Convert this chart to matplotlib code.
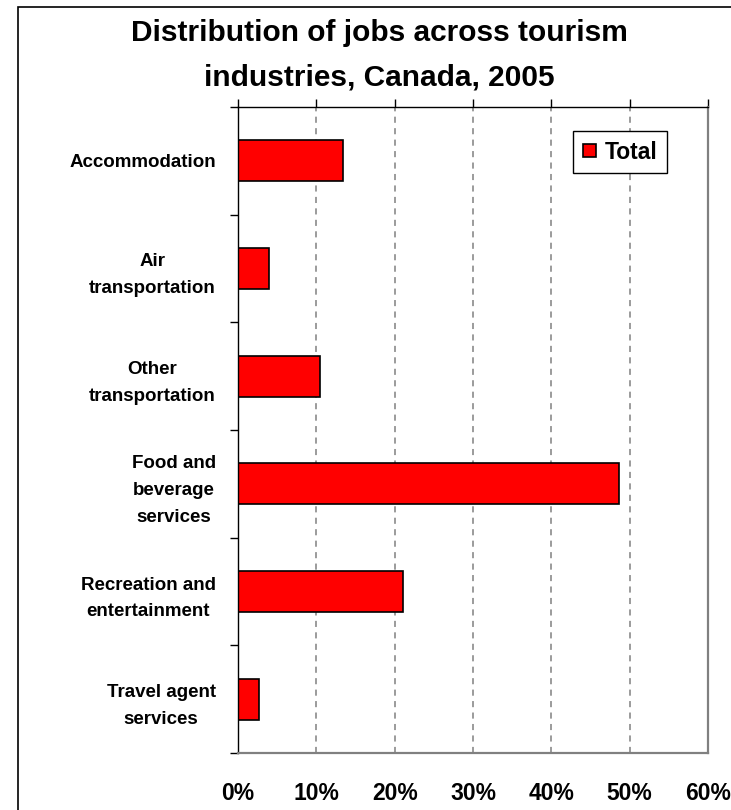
import matplotlib
matplotlib.use('Agg')
import matplotlib.pyplot as plt
import matplotlib.patches as patches
import numpy as np

industries = ['Accommodation', 'Air\ntransportation', 'Other\ntransportation',
              'Food and\nbeverage\nservices', 'Recreation and\nentertainment',
              'Travel agent\nservices']
share_total = [0.134, 0.039, 0.105, 0.486, 0.210, 0.027]
x_ticks = [0.0, 0.1, 0.2, 0.3, 0.4, 0.5, 0.6]
x_labels = ['0%', '10%', '20%', '30%', '40%', '50%', '60%']

plt.rcParams['font.family'] = ['Liberation Sans', 'DejaVu Sans']

W, H = 731, 810
fig = plt.figure(figsize=(W / 100, H / 100), dpi=100)
ax = fig.add_axes([238 / W, 57 / H, 470 / W, 646 / H])

ypos = np.arange(len(industries)) + 0.5
ax.barh(ypos, share_total, height=0.38, color='#ff0000', edgecolor='black',
        linewidth=1.2, label='Total', zorder=3)

ax.set_xlim(0, 0.6)
ax.set_ylim(len(industries), 0)

# gridlines
ax.set_xticks(x_ticks)
ax.set_xticklabels(x_labels, fontsize=16.5, fontweight='bold')
ax.grid(axis='x', color='#808080', linestyle=(0, (4, 3.5)), linewidth=1.1, zorder=1)
ax.xaxis.set_ticks_position('top')
ax.tick_params(axis='x', top=True, bottom=False, labeltop=False, labelbottom=True,
               length=6, width=1, color='black', direction='out', pad=15)

# category boundaries as major ticks, names as minor tick labels
ax.set_yticks(np.arange(len(industries) + 1))
ax.set_yticklabels([])
ax.set_yticks(ypos, minor=True)
ax.set_yticklabels(industries, minor=True, fontsize=13.5, fontweight='bold')
ax.tick_params(axis='y', which='major', length=6, width=1, color='black', direction='out')
ax.tick_params(axis='y', which='minor', length=0, pad=16)
for lbl in ax.get_yticklabels(minor=True):
    lbl.set_multialignment('center')
    lbl.set_linespacing(1.75)

ax.spines['left'].set_color('black')
ax.spines['top'].set_color('black')
ax.spines['left'].set_linewidth(1.0)
ax.spines['top'].set_linewidth(1.0)
ax.spines['right'].set_color('#808080')
ax.spines['bottom'].set_color('#808080')
ax.spines['right'].set_linewidth(1.6)
ax.spines['bottom'].set_linewidth(1.6)
for s in ax.spines.values():
    s.set_zorder(4)

leg = ax.legend(loc='upper right', bbox_to_anchor=(0.913, 0.963), fancybox=False,
                framealpha=1, edgecolor='black', prop={'size': 16.5, 'weight': 'bold'},
                handlelength=0.55, handleheight=0.55, handletextpad=0.4,
                borderpad=0.42, borderaxespad=0)
leg.get_frame().set_linewidth(1.0)
leg.set_zorder(5)

fig.text(379 / W, 1 - 55 / H, 'Distribution of jobs across tourism\nindustries, Canada, 2005',
         ha='center', va='center', fontsize=21.5, fontweight='bold', linespacing=1.75)

# outer chart frame
fig.add_artist(patches.Rectangle((18 / W, -0.1), 1.2, 1 - 7 / H + 0.1,
                                 transform=fig.transFigure, fill=False,
                                 edgecolor='black', linewidth=1.2))

plt.savefig('out.png', dpi=100)
plt.close()
